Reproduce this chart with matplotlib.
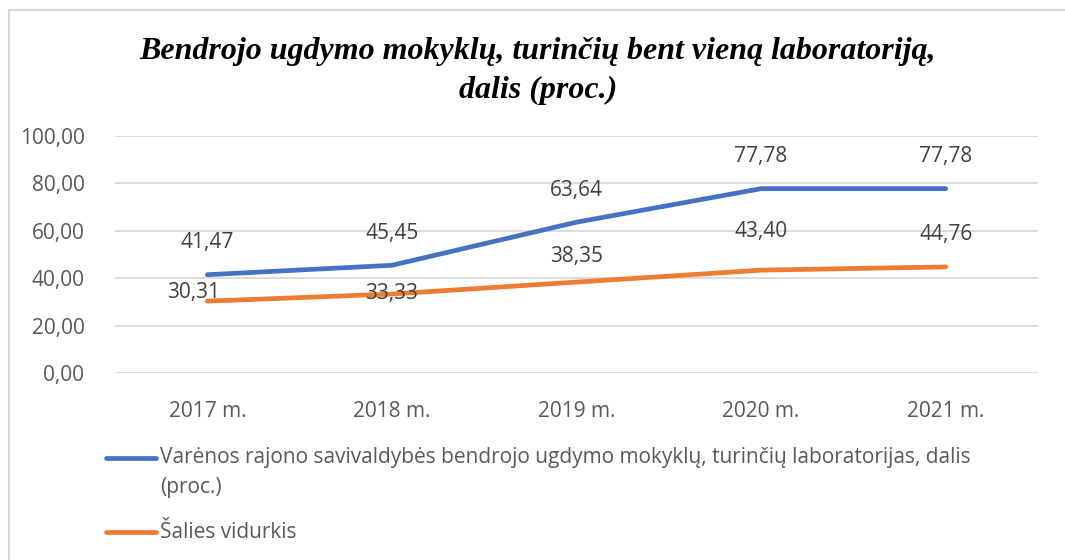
import matplotlib
matplotlib.use('Agg')
import matplotlib.pyplot as plt
from matplotlib.lines import Line2D
from matplotlib.patches import Rectangle

years = ["2017 m.", "2018 m.", "2019 m.", "2020 m.", "2021 m."]
varena = [41.47, 45.45, 63.64, 77.78, 77.78]
salies = [30.31, 33.33, 38.35, 43.40, 44.76]
y_ticks = [0, 20, 40, 60, 80, 100]

title = "Bendrojo ugdymo mokyklų, turinčių bent vieną laboratoriją,\ndalis (proc.)"
label_varena = ["Varėnos rajono savivaldybės bendrojo ugdymo mokyklų, turinčių laboratorijas, dalis",
                "(proc.)"]
label_salies = "Šalies vidurkis"

BLUE = "#4472C4"
ORANGE = "#ED7D31"
GRID = "#D9D9D9"
TXT = "#595959"
LBL = "#404040"
FONT = "Open Sans"
FS = 15

W, H = 1065, 560
fig = plt.figure(figsize=(W / 100, H / 100), dpi=100)

def fx(px):
    return px / W

def fy(py):
    return 1 - py / H

# chart border (only top and left visible)
fig.add_artist(Rectangle((fx(8.5), fy(600)), fx(1100), fy(9.5) - fy(600),
                         transform=fig.transFigure, fill=False, ec=GRID, lw=1.5))

ax = fig.add_axes([fx(115), fy(373), fx(1038 - 115), fy(136) - fy(373)])
x = list(range(len(years)))
ax.plot(x, varena, color=BLUE, lw=3.4, solid_capstyle="round", zorder=3)
ax.plot(x, salies, color=ORANGE, lw=3.4, solid_capstyle="round", zorder=3)

ax.set_xlim(-0.5, len(years) - 0.5)
ax.set_ylim(0, 100)
ax.set_yticks(y_ticks)
ax.set_yticklabels([f"{v:.2f}".replace(".", ",") for v in y_ticks])
ax.set_xticks(x)
ax.set_xticklabels(years)
ax.tick_params(length=0, labelsize=FS, labelcolor=TXT)
ax.tick_params(axis="y", pad=22)
ax.tick_params(axis="x", pad=20)
for t in ax.get_xticklabels() + ax.get_yticklabels():
    t.set_family(FONT)
ax.grid(axis="y", color=GRID, lw=1.3)
ax.set_axisbelow(True)
for s in ax.spines.values():
    s.set_visible(False)

# data labels (pixel offsets)
blue_off = [(0, 32)] * 5
orange_off = [(-14, 9), (0, 1), (0, 26), (0, 39), (0, 32)]
for i, v in enumerate(varena):
    ax.annotate(f"{v:.2f}".replace(".", ","), (i, v), xytext=blue_off[i],
                textcoords="offset pixels", ha="center", va="center",
                fontsize=FS, color=LBL, family=FONT, zorder=4)
for i, v in enumerate(salies):
    ax.annotate(f"{v:.2f}".replace(".", ","), (i, v), xytext=orange_off[i],
                textcoords="offset pixels", ha="center", va="center",
                fontsize=FS, color=LBL, family=FONT, zorder=4)

fig.text(0.505, fy(71), title, ha="center", va="center", fontsize=23,
         family="Liberation Serif", weight="bold", style="italic",
         linespacing=1.45)

# legend
fig.add_artist(Line2D([fx(106), fx(156)], [fy(458), fy(458)], color=BLUE,
                      lw=3.4, solid_capstyle="round"))
fig.add_artist(Line2D([fx(106), fx(156)], [fy(532), fy(532)], color=ORANGE,
                      lw=3.4, solid_capstyle="round"))
fig.text(fx(160), fy(458), label_varena[0], ha="left", va="center", fontsize=FS,
         color=TXT, family=FONT)
fig.text(fx(160), fy(488), label_varena[1], ha="left", va="center", fontsize=FS,
         color=TXT, family=FONT)
fig.text(fx(160), fy(532), label_salies, ha="left", va="center", fontsize=FS,
         color=TXT, family=FONT)

fig.savefig("out.png", dpi=100, facecolor="white")
